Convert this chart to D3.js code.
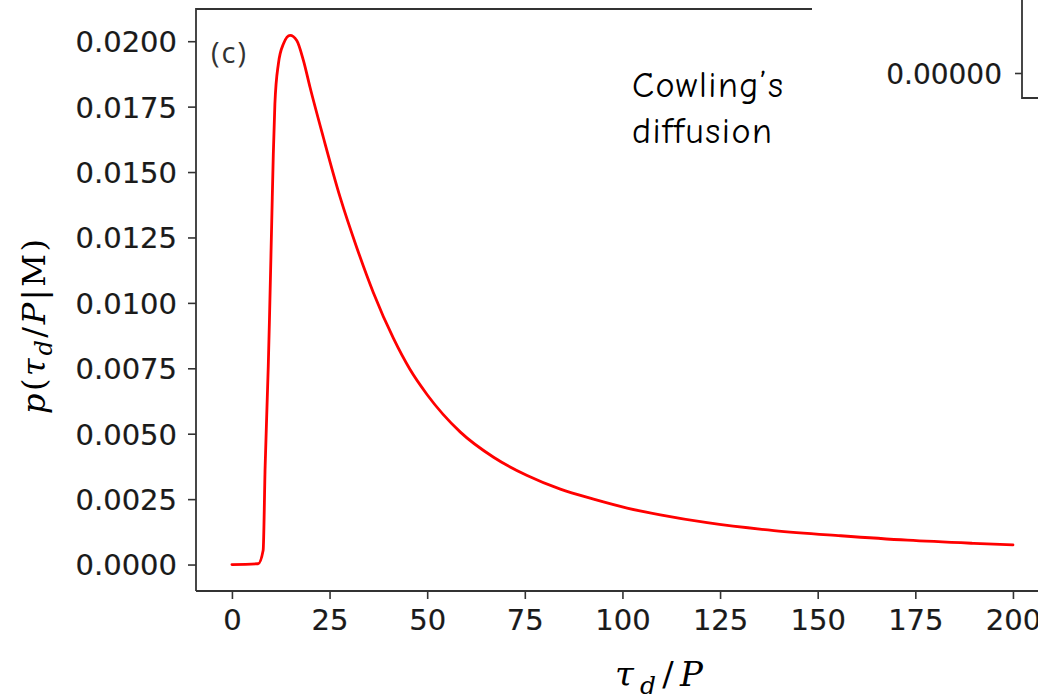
<!DOCTYPE html>
<html>
<head>
<meta charset="utf-8">
<script src="https://cdn.jsdelivr.net/npm/d3@7"></script>
<style>
  html, body { margin: 0; padding: 0; background: #fff; }
  svg { display: block; }
</style>
</head>
<body>
<svg id="chart" width="1038" height="699"></svg>
<script>
// Posterior of the normalised diffusion time, Cowling's diffusion model
const tauOverP = [0, 6.7, 8.0, 8.5, 9.3, 9.6, 10.2, 10.6, 11.0, 11.9, 13.2, 14.9, 16.6, 18.3, 20.0,
                  23.4, 27.7, 32.0, 36.2, 41.4, 45.5, 50.0, 58.5, 67.0, 75.6, 84.1, 92.6, 101.2, 109.7,
                  121.7, 138.8, 155.9, 173.0, 190.0, 200];
const density  = [0, 0.00003, 0.00055, 0.00373, 0.00755, 0.0093, 0.01315, 0.0157, 0.0176, 0.01914,
                  0.0199, 0.02022, 0.02003, 0.01927, 0.01824, 0.01633, 0.01404, 0.0121, 0.0104,
                  0.00863, 0.00748, 0.00649, 0.00506, 0.0041, 0.0034, 0.00288, 0.0025, 0.00216, 0.0019,
                  0.0016, 0.0013, 0.0011, 0.00093, 0.00081, 0.00075];
const xTicks = [0, 25, 50, 75, 100, 125, 150, 175, 200];
const yTicks = [0, 0.0025, 0.005, 0.0075, 0.01, 0.0125, 0.015, 0.0175, 0.02];
const panelLabel = "(c)";
const noteLines = ["Cowling\u2019s", "diffusion"];

const svg = d3.select("#chart");
const W = 1038, H = 699;
const box = { left: 196, top: 9, bottom: 591, right: 1052 };
const axisColor = "#333";

// matplotlib-like 5% padding around the data range
const xMin = d3.min(tauOverP), xMax = d3.max(tauOverP);
const yMax = d3.max(density);
const x = d3.scaleLinear()
  .domain([-9.2, xMax + 0.05 * (xMax - xMin)])
  .range([box.left, box.right]);
const y = d3.scaleLinear()
  .domain([-0.05 * yMax, yMax * 1.05])
  .range([box.bottom, box.top]);

svg.append("defs").append("clipPath").attr("id", "plotClip")
  .append("rect")
  .attr("x", box.left).attr("y", box.top)
  .attr("width", box.right - box.left).attr("height", box.bottom - box.top);

// curve
const pts = tauOverP.map((t, i) => [t, density[i]]);
svg.append("path")
  .datum(pts)
  .attr("clip-path", "url(#plotClip)")
  .attr("fill", "none")
  .attr("stroke", "#ff0000")
  .attr("stroke-width", 2.8)
  .attr("stroke-linejoin", "round")
  .attr("stroke-linecap", "round")
  .attr("d", d3.line().x(d => x(d[0])).y(d => y(d[1])).curve(d3.curveMonotoneX));

// axes
const tickFont = "'DejaVu Sans', sans-serif";
const styleTickText = sel => sel
  .attr("fill", "#1a1a1a")
  .attr("stroke", "#1a1a1a")
  .attr("stroke-width", 0.2)
  .style("font-family", tickFont);

const xAxis = svg.append("g")
  .attr("transform", `translate(0,${box.bottom})`)
  .call(d3.axisBottom(x).tickValues(xTicks).tickFormat(d3.format("d")).tickSizeOuter(0).tickSize(8).tickPadding(10));
const yAxis = svg.append("g")
  .attr("transform", `translate(${box.left},0)`)
  .call(d3.axisLeft(y).tickValues(yTicks).tickFormat(d3.format(".4f")).tickSizeOuter(0).tickSize(8).tickPadding(11));

[xAxis, yAxis].forEach(g => {
  g.select(".domain").remove();
  g.selectAll(".tick line").attr("stroke", axisColor).attr("stroke-width", 1.6);
  g.selectAll(".tick text").call(styleTickText).style("font-size", "29px");
});
yAxis.selectAll(".tick text").attr("dy", "0.36em");
xAxis.selectAll(".tick text").attr("dy", "0.72em");

// spines
const spines = svg.append("g")
  .attr("stroke", axisColor).attr("stroke-width", 1.8).attr("fill", "none");
spines.append("path").attr("d", `M${box.left},${box.bottom}V${box.top}H${W}`);
spines.append("path").attr("d", `M${box.left},${box.bottom}H${W}`);

// neighbouring panel overlapping the top-right corner
const inset = svg.append("g");
inset.append("rect")
  .attr("x", 812).attr("y", 0).attr("width", W - 812).attr("height", 112)
  .attr("fill", "#fff");
const insetY = d3.scaleLinear().domain([0, 0.00001]).range([73, 0]);
const insetAxis = inset.append("g")
  .attr("transform", "translate(1022,0)")
  .call(d3.axisLeft(insetY).tickValues([0]).tickFormat(d3.format(".5f")).tickSizeOuter(0).tickSize(7).tickPadding(13));
insetAxis.select(".domain")
  .attr("d", "M0,0V98H20")
  .attr("stroke", axisColor).attr("stroke-width", 1.8).attr("fill", "none");
insetAxis.selectAll(".tick line").attr("stroke", axisColor).attr("stroke-width", 1.6);
insetAxis.selectAll(".tick text")
  .call(styleTickText)
  .attr("dy", "0.36em")
  .style("font-size", "28px");

// panel tag
svg.append("text")
  .attr("x", 211).attr("y", 63)
  .attr("fill", "#333")
  .style("font-family", "'Open Sans', 'Noto Sans', sans-serif")
  .style("font-size", "29px")
  .style("letter-spacing", "2px")
  .text(panelLabel);

// model annotation
const note = svg.append("text")
  .attr("fill", "#000")
  .style("font-family", "'Comic Sans MS', 'Comic Neue', 'Open Sans', sans-serif")
  .style("font-size", "36px")
  .style("letter-spacing", "1.5px");
note.append("tspan").attr("x", 632).attr("y", 97).text(noteLines[0]);
note.append("tspan").attr("x", 632).attr("y", 143).text(noteLines[1]);

// axis titles (math style)
const serif = "'DejaVu Serif', 'Liberation Serif', serif";
const xt = svg.append("text")
  .attr("x", 615).attr("y", 686)
  .attr("fill", "#000")
  .style("font-family", serif)
  .style("font-size", "34px")
  .attr("textLength", 88).attr("lengthAdjust", "spacing");
xt.append("tspan").style("font-style", "italic").text("\u03C4");
xt.append("tspan").style("font-style", "italic").style("font-size", "25px").attr("dy", 8).text("d");
xt.append("tspan").attr("dy", -8).text("/");
xt.append("tspan").style("font-style", "italic").text("P");

const yt = svg.append("text")
  .attr("transform", "translate(45,414) rotate(-90)")
  .attr("fill", "#000")
  .style("font-family", serif)
  .style("font-size", "32px")
  .attr("textLength", 175).attr("lengthAdjust", "spacing");
yt.append("tspan").style("font-style", "italic").text("p");
yt.append("tspan").text("(");
yt.append("tspan").style("font-style", "italic").text("\u03C4");
yt.append("tspan").style("font-style", "italic").style("font-size", "24px").attr("dy", 7).text("d");
yt.append("tspan").attr("dy", -7).text("/");
yt.append("tspan").style("font-style", "italic").text("P");
yt.append("tspan").text("|M)");
</script>
</body>
</html>
